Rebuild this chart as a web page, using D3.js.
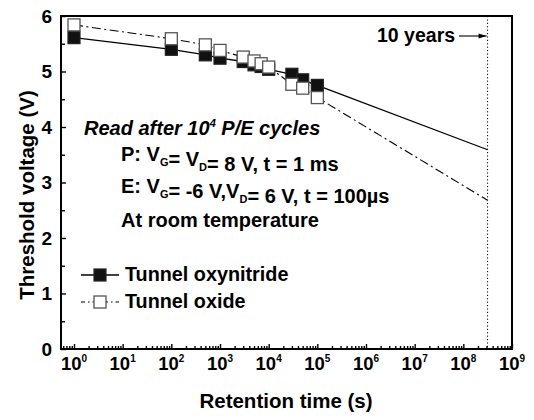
<!DOCTYPE html>
<html>
<head>
<meta charset="utf-8">
<script src="https://cdn.jsdelivr.net/npm/d3@7"></script>
<style>
  body { margin: 0; background: #fff; }
  text { font-family: "Liberation Sans", Arial, Helvetica, sans-serif; font-weight: bold; fill: #000; }
</style>
</head>
<body>
<svg id="chart" width="534" height="420"></svg>
<script>
// ---- data ----
const times = [1, 100, 500, 1000, 3000, 5000, 7000, 10000, 30000, 50000, 100000];
const oxynitride = [5.61, 5.40, 5.30, 5.24, 5.18, 5.12, 5.09, 5.04, 4.95, 4.85, 4.75];
const oxide = [5.84, 5.59, 5.48, 5.38, 5.26, 5.19, 5.14, 5.08, 4.77, 4.70, 4.53];
const tenYears = 3.15e8;
const oxynitrideAt10y = 3.59;
const oxideAt10y = 2.68;
const yTicks = [0, 1, 2, 3, 4, 5, 6];
const xTickExponents = [0, 1, 2, 3, 4, 5, 6, 7, 8, 9];

const svg = d3.select("#chart");
const L = 61, R = 512, T = 16, B = 349;

const x = d3.scaleLog().domain([Math.pow(10, -0.267), 1e9]).range([L, R]);
const y = d3.scaleLinear().domain([0, 6]).range([B, T]);

// ---- axes ----
const minorX = [];
for (let d = -1; d <= 8; d++) for (let m = 2; m <= 9; m++) {
  const v = m * Math.pow(10, d);
  if (v > x.domain()[0] && v < 1e9) minorX.push(v);
}
const majorX = xTickExponents.map(e => Math.pow(10, e));

const gxMinor = svg.append("g").attr("transform", `translate(0,${B})`)
  .call(d3.axisBottom(x).tickValues(minorX).tickSize(-3).tickFormat(""));
const gxMajor = svg.append("g").attr("transform", `translate(0,${B})`)
  .call(d3.axisBottom(x).tickValues(majorX).tickSize(-5).tickFormat(""));
const gyMinor = svg.append("g").attr("transform", `translate(${L},0)`)
  .call(d3.axisLeft(y).tickValues(d3.range(0.5, 6, 1)).tickSize(-4).tickFormat(""));
const gyMajor = svg.append("g").attr("transform", `translate(${L},0)`)
  .call(d3.axisLeft(y).tickValues(yTicks).tickSize(-5).tickPadding(9).tickFormat(d3.format("d")));
[gxMinor, gxMajor, gyMinor, gyMajor].forEach(g => {
  g.select(".domain").remove();
  g.selectAll("line").attr("stroke", "#000").attr("stroke-width", 1.4);
});
gyMajor.selectAll("text").style("font-size", "19px").attr("font-family", null);

// x tick labels with superscripts
const xl = svg.append("g").selectAll("text").data(xTickExponents).join("text")
  .attr("x", e => x(Math.pow(10, e)))
  .attr("y", 370)
  .attr("text-anchor", "middle")
  .style("font-size", "18.5px");
xl.append("tspan").text("10");
xl.append("tspan").attr("dy", -8).style("font-size", "10px").text(e => e);

// frame
svg.append("rect").attr("x", L).attr("y", T).attr("width", R - L).attr("height", B - T)
  .attr("fill", "none").attr("stroke", "#000").attr("stroke-width", 2);

// axis titles
svg.append("text").attr("x", 286).attr("y", 408).attr("text-anchor", "middle")
  .style("font-size", "20.5px").text("Retention time (s)");
svg.append("text").attr("transform", `translate(34,195) rotate(-90)`)
  .attr("text-anchor", "middle").style("font-size", "20.5px").text("Threshold voltage (V)");

// 10-year marker
svg.append("line").attr("x1", x(tenYears)).attr("x2", x(tenYears)).attr("y1", T).attr("y2", B)
  .attr("stroke", "#000").attr("stroke-width", 1).attr("stroke-dasharray", "1.2,2.2");
svg.append("text").attr("x", 377).attr("y", 42).style("font-size", "19.5px").text("10 years");
svg.append("line").attr("x1", 459).attr("x2", x(tenYears) - 1).attr("y1", 36).attr("y2", 36)
  .attr("stroke", "#000").attr("stroke-width", 1.1);
svg.append("path")
  .attr("d", `M${x(tenYears) - 1},36 l-8,-2.5 l0,5 z`).attr("fill", "#000");

// ---- lines ----
const line = d3.line().x(d => x(d[0])).y(d => y(d[1]));
const oxyLine = times.map((t, i) => [t, oxynitride[i]]).concat([[tenYears, oxynitrideAt10y]]);
const oxLine = times.map((t, i) => [t, oxide[i]]).concat([[tenYears, oxideAt10y]]);
const dashDot = "9,3.5,2,3.5";

svg.append("path").attr("d", line(oxLine)).attr("fill", "none")
  .attr("stroke", "#000").attr("stroke-width", 1.1).attr("stroke-dasharray", dashDot);
svg.append("path").attr("d", line(oxyLine)).attr("fill", "none")
  .attr("stroke", "#000").attr("stroke-width", 1.3);

// ---- markers ----
const S = 12;
svg.append("g").selectAll("rect").data(times.map((t, i) => [t, oxynitride[i]])).join("rect")
  .attr("x", d => x(d[0]) - S / 2).attr("y", d => y(d[1]) - S / 2)
  .attr("width", S).attr("height", S).attr("fill", "#111").attr("stroke", "#222").attr("stroke-width", 1.2);
svg.append("g").selectAll("rect").data(times.map((t, i) => [t, oxide[i]])).join("rect")
  .attr("x", d => x(d[0]) - S / 2).attr("y", d => y(d[1]) - S / 2)
  .attr("width", S).attr("height", S).attr("fill", "#fff").attr("stroke", "#555").attr("stroke-width", 1.3);

// ---- annotation text ----
const ann = svg.append("g");
const FS = "20px";
const t1 = ann.append("text").attr("x", 84).attr("y", 135).style("font-size", FS).style("font-style", "italic");
t1.append("tspan").text("Read after 10");
t1.append("tspan").attr("dy", -8).style("font-size", "11px").text("4");
t1.append("tspan").attr("dy", 8).text(" P/E cycles");

function subLine(yPos, parts) {
  const t = ann.append("text").attr("x", 121).attr("y", yPos).style("font-size", FS);
  parts.forEach(p => {
    if (p.sub) {
      t.append("tspan").attr("dy", 5).style("font-size", "11px").text(p.sub);
      t.append("tspan").attr("dy", -5).text("");
    } else {
      t.append("tspan").text(p.t);
    }
  });
}
subLine(161, [{t: "P: V"}, {sub: "G"}, {t: "= V"}, {sub: "D"}, {t: "= 8 V, t = 1 ms"}]);
subLine(193, [{t: "E: V"}, {sub: "G"}, {t: "= -6 V,V"}, {sub: "D"}, {t: "= 6 V, t = 100\u00b5s"}]);
ann.append("text").attr("x", 121).attr("y", 227).style("font-size", FS).text("At room temperature");

// ---- legend ----
const lg = svg.append("g");
lg.append("line").attr("x1", 81).attr("x2", 119).attr("y1", 275).attr("y2", 275)
  .attr("stroke", "#000").attr("stroke-width", 1.3);
lg.append("rect").attr("x", 100 - S / 2).attr("y", 275 - S / 2).attr("width", S).attr("height", S)
  .attr("fill", "#111").attr("stroke", "#222").attr("stroke-width", 1.2);
lg.append("text").attr("x", 125).attr("y", 281).style("font-size", "19.8px").text("Tunnel oxynitride");
lg.append("line").attr("x1", 81).attr("x2", 119).attr("y1", 302).attr("y2", 302)
  .attr("stroke", "#000").attr("stroke-width", 1.1).attr("stroke-dasharray", "4,3,1.5,3");
lg.append("rect").attr("x", 100 - S / 2).attr("y", 302 - S / 2).attr("width", S).attr("height", S)
  .attr("fill", "#fff").attr("stroke", "#555").attr("stroke-width", 1.3);
lg.append("text").attr("x", 125).attr("y", 308).style("font-size", "19.8px").text("Tunnel oxide");
</script>
</body>
</html>
